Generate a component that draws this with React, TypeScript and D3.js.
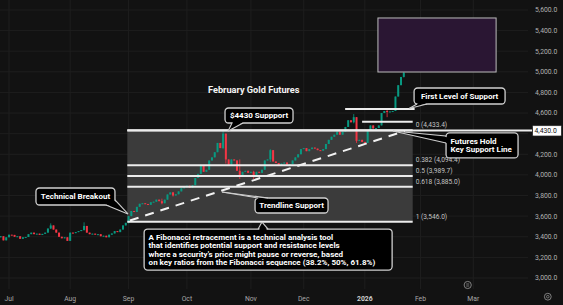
import React from 'react';
import * as d3 from 'd3';

const W = 563;
const H = 305;

// Daily Feb gold futures bars, Jun 26 2025 .. Jan 22 2026 (bar index 0 = Jun 26)
const firstOpen = 3395;
const closes = [
  3405, 3365, 3395,
  // Jul
  3420, 3418, 3400, 3405, 3380, 3395, 3398, 3425, 3440, 3425, 3430, 3418, 3428, 3440, 3480, 3510, 3470, 3440, 3400, 3385, 3395, 3360,
  // Aug
  3440, 3435, 3445, 3455, 3465, 3505, 3440, 3425, 3430, 3420, 3425, 3405, 3410, 3395, 3420, 3432, 3455, 3445, 3470, 3510, 3535,
  // Sep
  3600, 3650, 3640, 3690, 3720, 3725, 3718, 3710, 3735, 3740, 3760, 3745, 3725, 3760, 3810, 3830, 3800, 3812, 3840, 3870, 3880,
  // Oct
  3895, 3875, 3900, 3970, 4010, 4090, 4030, 4050, 4140, 4170, 4220, 4310, 4260, 4400, 4150, 4100, 4150, 4140, 4040, 3990, 4030, 4040, 4020,
  // Nov
  4030, 3990, 4030, 4020, 4050, 4140, 4150, 4240, 4130, 4115, 4090, 4110, 4120, 4100, 4105, 4140, 4170, 4200, 4250,
  // Dec
  4260, 4230, 4250, 4265, 4255, 4240, 4235, 4250, 4300, 4340, 4370, 4390, 4420, 4390, 4420, 4465, 4530, 4510, 4560, 4330, 4340, 4320,
  // Jan
  4310, 4430, 4480, 4450, 4455, 4480, 4600, 4620, 4610, 4615, 4620, 4760, 4870, 4950, 4990,
];
// [bar index, high, low] for visible wicks
const wickExtremes: [number, number, number][] = [
  [18, 3530, 3475], [30, 3540, 3460], [46, 3600, 3530], [58, 3770, 3715], [62, 3835, 3790],
  [72, 4100, 4020], [80, 4440, 4250], [81, 4400, 4110], [86, 4150, 3960], [91, 4040, 3960],
  [97, 4250, 4125], [127, 4590, 4500], [128, 4560, 4310], [139, 4640, 4560], [145, 5000, 4945],
];

const monthLabels = ['Jul', 'Aug', 'Sep', 'Oct', 'Nov', 'Dec', '2026', 'Feb', 'Mar'];
const monthBars = [3, 25, 46, 67, 90, 109, 131, 151, 170];
const priceTicks = [3000, 3200, 3400, 3600, 3800, 4000, 4200, 4400, 4600, 4800, 5000, 5200, 5400, 5600];

const fibRatios = ['0', '0.382', '0.5', '0.618', '1'];
const fibPrices = [4433.4, 4094.4, 3989.7, 3885.0, 3546.0];
const fibBars = [45.55, 148.2];

const supportPrice = 4430;
const shortLinePrice = 4516;
const shortLineBars = [130, 148.2];
const firstLevelPrice = 4639;
const firstLevelBars = [123.9, 148.9];
const trendBars = [46.5, 145.4];
const trendPrices = [3558, 4426];
const targetBars = [135.7, 178.2];
const targetPrices = [4998, 5522];

type Callout = {
  lines: string[];
  bar: number; price: number; w: number; h: number;
  tipBar: number; tipPrice: number;
  base: [number, number, number, number];
  align: 'middle' | 'start';
};
const callouts: Callout[] = [
  { lines: ['Technical Breakout'], bar: 12.7, price: 3873, w: 79, h: 17, tipBar: 45.8, tipPrice: 3621, base: [70, 17, 79, 12], align: 'middle' },
  { lines: ['$4430 Suppport'], bar: 80.7, price: 4649, w: 68, h: 15, tipBar: 81.8, tipPrice: 4426, base: [7, 15, 18, 15], align: 'middle' },
  { lines: ['Trendline Support'], bar: 91.5, price: 3776, w: 73, h: 15, tipBar: 79.6, tipPrice: 3834, base: [3, 0, 13, 0], align: 'middle' },
  {
    lines: [
      'A Fibonacci retracement is a technical analysis tool',
      'that identifies potential support and resistance levels',
      "where a security's price might pause or reverse, based",
      'on key ratios from the Fibonacci sequence (38.2%, 50%, 61.8%)',
    ],
    bar: 51.6, price: 3475, w: 248, h: 41, tipBar: 94, tipPrice: 3543, base: [114, 0, 124, 0], align: 'start',
  },
  { lines: ['First Level of Support'], bar: 148.7, price: 4843, w: 91, h: 16, tipBar: 146.9, tipPrice: 4644, base: [3, 16, 13, 16], align: 'middle' },
  { lines: ['Futures Hold', 'Key Support Line'], bar: 160.2, price: 4407, w: 72, h: 25, tipBar: 141.1, tipPrice: 4426, base: [0, 3, 0, 10], align: 'start' },
];

const FONT = 'Roboto, "Noto Sans", sans-serif';
const UP = '#089981';
const DOWN = '#f23645';

export default function App() {
  const x = d3.scaleLinear().domain([monthBars[0], monthBars[monthBars.length - 1]]).range([9, 473.3]);
  const y = d3.scaleLinear().domain([3000, 5600]).range([278, 9.94]);

  const wickMap = new Map(wickExtremes.map((d) => [d[0], d]));
  const candles = closes.map((c, i) => {
    const o = i === 0 ? firstOpen : closes[i - 1];
    const wk = wickMap.get(i);
    const hi = wk ? Math.max(wk[1], o, c) : Math.max(o, c);
    const lo = wk ? Math.min(wk[2], o, c) : Math.min(o, c);
    return { i, o, c, hi, lo };
  });

  const bw = 2;
  const axisX = 535;
  // the axis hides tick labels that collide with the highlighted support label
  const shownTicks = priceTicks.filter((p) => Math.abs(y(p) - y(supportPrice)) > 8);

  return (
    <div style={{ position: 'fixed', left: 0, top: 0, width: W, height: H }}>
      <svg width={W} height={H} style={{ display: 'block', background: '#121212' }} fontFamily={FONT}>
        <rect x={0} y={0} width={W} height={H} fill="#121212" />
        {monthBars.map((b, k) => (
          <line key={'vg' + k} x1={x(b)} x2={x(b)} y1={0} y2={289} stroke="#1e1e1e" strokeWidth={1} />
        ))}
        {priceTicks.map((p) => (
          <line key={'hg' + p} x1={0} x2={528} y1={y(p)} y2={y(p)} stroke="#1e1e1e" strokeWidth={1} />
        ))}

        <rect x={x(fibBars[0])} y={y(fibPrices[0])} width={x(fibBars[1]) - x(fibBars[0])}
          height={y(fibPrices[4]) - y(fibPrices[0])} fill="#3b3b3b" />

        {candles.map((d) => {
          const col = d.c >= d.o ? UP : DOWN;
          const top = y(Math.max(d.o, d.c));
          const bot = y(Math.min(d.o, d.c));
          return (
            <g key={'c' + d.i}>
              <line x1={x(d.i)} x2={x(d.i)} y1={y(d.hi)} y2={y(d.lo)} stroke={col} strokeWidth={0.8} />
              <rect x={x(d.i) - bw / 2} y={top} width={bw} height={Math.max(1, bot - top)} fill={col} />
            </g>
          );
        })}

        {fibPrices.map((p, k) => (
          <line key={'fl' + k} x1={x(fibBars[0])} x2={x(fibBars[1])} y1={y(p)} y2={y(p)} stroke="#ececec" strokeWidth={2} />
        ))}
        {fibPrices.map((p, k) => (
          <text key={'ft' + k} x={x(fibBars[1]) + 3} y={y(p) - 3} fontSize={6.6} fill="#c4c4c4">
            {`${fibRatios[k]} (${d3.format(',.1f')(p)})`}
          </text>
        ))}
        <line x1={x(fibBars[0])} x2={532} y1={y(supportPrice)} y2={y(supportPrice)} stroke="#ececec" strokeWidth={2} />
        <line x1={x(shortLineBars[0])} x2={x(shortLineBars[1])} y1={y(shortLinePrice)} y2={y(shortLinePrice)} stroke="#ececec" strokeWidth={2} />
        <line x1={x(firstLevelBars[0])} x2={x(firstLevelBars[1])} y1={y(firstLevelPrice)} y2={y(firstLevelPrice)} stroke="#ececec" strokeWidth={2} />

        <line x1={x(trendBars[0])} y1={y(trendPrices[0])} x2={x(trendBars[1])} y2={y(trendPrices[1])}
          stroke="#f2f2f2" strokeWidth={2} strokeDasharray="9 7" />

        <rect x={x(targetBars[0])} y={y(targetPrices[1])} width={x(targetBars[1]) - x(targetBars[0])}
          height={y(targetPrices[0]) - y(targetPrices[1])} fill="#2a1633" stroke="#bdbdbd" strokeWidth={1} />

        <text x={208} y={92.5} fontSize={9.2} fontWeight={700} fill="#f4f4f4">February Gold Futures</text>

        {callouts.map((c, k) => {
          const bx = x(c.bar);
          const by = y(c.price);
          const tx = x(c.tipBar);
          const ty = y(c.tipPrice);
          const b1 = [bx + c.base[0], by + c.base[1]];
          const b2 = [bx + c.base[2], by + c.base[3]];
          const cx = bx + c.w / 2;
          const cy = by + c.h / 2;
          const in1 = [b1[0] + (cx - b1[0]) * 0.04, b1[1] + (cy - b1[1]) * 0.15];
          const in2 = [b2[0] + (cx - b2[0]) * 0.04, b2[1] + (cy - b2[1]) * 0.15];
          const lh = 8.2;
          const ty0 = cy - ((c.lines.length - 1) * lh) / 2 + 2.9;
          return (
            <g key={'co' + k}>
              <rect x={bx} y={by} width={c.w} height={c.h} rx={3.5} fill="#000" stroke="#cfcfcf" strokeWidth={1.3} />
              <polygon points={`${in1[0]},${in1[1]} ${tx},${ty} ${in2[0]},${in2[1]}`} fill="#000" />
              <line x1={b1[0]} y1={b1[1]} x2={tx} y2={ty} stroke="#cfcfcf" strokeWidth={1.1} />
              <line x1={b2[0]} y1={b2[1]} x2={tx} y2={ty} stroke="#cfcfcf" strokeWidth={1.1} />
              {c.lines.map((t, j) => (
                <text key={j} x={c.align === 'middle' ? cx : bx + 4.5} y={ty0 + j * lh}
                  textAnchor={c.align} fontSize={8} fontWeight={700} fill="#fff">{t}</text>
              ))}
            </g>
          );
        })}

        {shownTicks.map((p) => (
          <text key={'pt' + p} x={axisX} y={y(p) + 2.4} fontSize={6.8} fill="#b0b0b0">{d3.format(',.1f')(p)}</text>
        ))}
        <rect x={532.5} y={y(supportPrice) - 5} width={29} height={10.5} fill="#ffffff" stroke="#222" strokeWidth={0.8} rx={1} />
        <text x={axisX - 0.5} y={y(supportPrice) + 2.6} fontSize={6.8} fill="#111">{d3.format(',.1f')(supportPrice)}</text>

        {monthLabels.map((m, k) => (
          <text key={'mt' + k} x={x(monthBars[k])} y={300.5} textAnchor="middle" fontSize={6.8}
            fill={m === '2026' ? '#d0d0d0' : '#a8a8a8'} fontWeight={m === '2026' ? 700 : 400}>{m}</text>
        ))}

        <circle cx={467.7} cy={285} r={3.6} fill="none" stroke="#8a8a8a" strokeWidth={0.9} />
        <line x1={466.2} x2={469.2} y1={284} y2={284} stroke="#8a8a8a" strokeWidth={0.8} />
        <line x1={466.2} x2={469.2} y1={286} y2={286} stroke="#8a8a8a" strokeWidth={0.8} />
        <circle cx={547.8} cy={296.7} r={3.4} fill="none" stroke="#8a8a8a" strokeWidth={0.9} />
        <circle cx={547.8} cy={296.7} r={1.3} fill="none" stroke="#8a8a8a" strokeWidth={0.8} />
      </svg>
    </div>
  );
}
